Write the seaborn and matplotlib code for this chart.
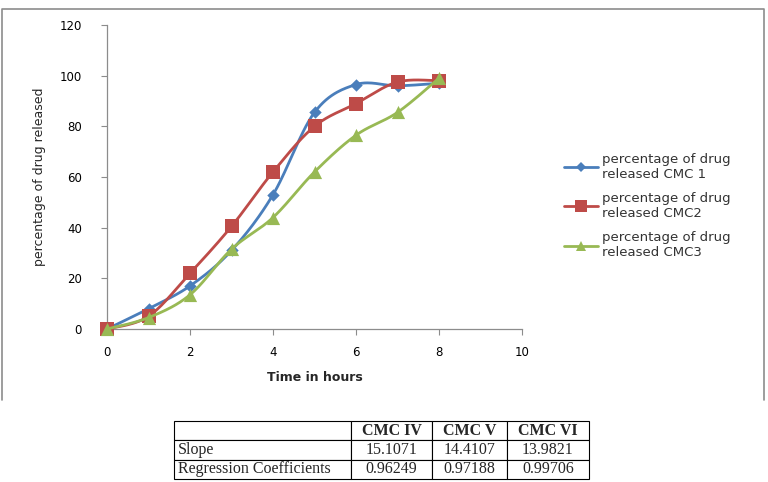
import numpy as np
import pandas as pd
import matplotlib as mpl
mpl.use("Agg")
import matplotlib.pyplot as plt
import seaborn as sns
from matplotlib.lines import Line2D

sns.set_style("white")
plt.rcParams['font.family'] = ['DejaVu Sans']

hours = [0, 1, 2, 3, 4, 5, 6, 7, 8]
cmc1 = [0, 8, 17, 31, 53, 85.5, 96.5, 96, 97]
cmc2 = [0, 5, 22, 40.5, 62, 80, 89, 97.5, 98]
cmc3 = [0, 4.5, 13.5, 31.5, 44, 62, 76.5, 85.5, 99]
series_names = ["percentage of drug\nreleased CMC 1",
                "percentage of drug\nreleased CMC2",
                "percentage of drug\nreleased CMC3"]
colors = ["#4A7EBB", "#BE4B48", "#98B954"]
markers = ["D", "s", "^"]
msizes = [40, 95, 90]

table_cols = ["", "CMC IV", "CMC V", "CMC VI"]
table_rows = [["Slope", "15.1071", "14.4107", "13.9821"],
              ["Regression Coefficients", "0.96249", "0.97188", "0.99706"]]


def smooth(x, y, n=30):
    # excel-like smoothed line (bezier through points, catmull-rom controls)
    x = np.asarray(x, float)
    y = np.asarray(y, float)
    px = np.concatenate([[x[0]], x, [x[-1]]])
    py = np.concatenate([[y[0]], y, [y[-1]]])
    xs, ys = [], []
    t = np.linspace(0, 1, n)
    for i in range(1, len(px) - 2):
        p0 = np.array([px[i], py[i]])
        p3 = np.array([px[i + 1], py[i + 1]])
        p1 = p0 + (p3 - np.array([px[i - 1], py[i - 1]])) / 6
        p2 = p3 - (np.array([px[i + 2], py[i + 2]]) - p0) / 6
        b = ((1 - t) ** 3)[:, None] * p0 + (3 * (1 - t) ** 2 * t)[:, None] * p1 \
            + (3 * (1 - t) * t ** 2)[:, None] * p2 + (t ** 3)[:, None] * p3
        xs.extend(b[:, 0])
        ys.extend(b[:, 1])
    return xs, ys


fig = plt.figure(figsize=(7.68, 4.82), dpi=100)

# outer chart frame
frame = fig.add_axes([0, 0, 1, 1], zorder=-1)
frame.set_xlim(0, 768)
frame.set_ylim(482, 0)
frame.axis("off")
frame.plot([2, 2, 764, 764], [400, 9, 9, 400], color="#8c8c8c", lw=1.2)

ax = fig.add_axes([107 / 768, 153 / 482, 415 / 768, 304 / 482])
for i, vals in enumerate([cmc1, cmc2, cmc3]):
    sx, sy = smooth(hours, vals)
    sns.lineplot(x=sx, y=sy, sort=False, color=colors[i], lw=2.0, ax=ax,
                 estimator=None, zorder=2 + i, clip_on=False)
    sns.scatterplot(x=hours, y=vals, marker=markers[i], s=msizes[i], color=colors[i],
                    edgecolor=colors[i], linewidth=0, ax=ax, zorder=2 + i, clip_on=False)

ax.set_xlim(0, 10)
ax.set_ylim(0, 120)
ax.set_xticks(range(0, 11, 2))
ax.set_yticks(range(0, 121, 20))
for side in ["top", "right"]:
    ax.spines[side].set_visible(False)
for side in ["left", "bottom"]:
    ax.spines[side].set_color("#8c8c8c")
    ax.spines[side].set_linewidth(0.9)
ax.tick_params(axis="both", direction="out", length=4, width=0.8, color="#8c8c8c",
               labelsize=8.5, labelcolor="black", left=True, bottom=True)
ax.tick_params(axis="x", pad=8)
ax.tick_params(axis="y", pad=14)
ax.set_xlabel("Time in hours", fontsize=9, fontweight="bold", labelpad=9)
ax.set_ylabel("percentage of drug released", fontsize=9, labelpad=10)

handles = [Line2D([], [], color=c, lw=2, marker=m, markersize=ms, markeredgewidth=0)
           for c, m, ms in zip(colors, markers, [5, 8, 7])]
fig.legend(handles, series_names, loc="upper left", bbox_to_anchor=(552 / 768, 1 - 141 / 482),
           frameon=False, fontsize=9.5, handlelength=2.6, handletextpad=0.3,
           labelspacing=0.85, labelcolor="#333333")

# table under the chart
tax = fig.add_axes([174 / 768, 3 / 482, 415 / 768, 58 / 482])
tax.axis("off")
tbl = tax.table(cellText=table_rows, colLabels=table_cols, bbox=[0, 0, 1, 1],
                colWidths=[177, 81, 75, 82], cellLoc="center")
tbl.auto_set_font_size(False)
for (r, c), cell in tbl.get_celld().items():
    cell.set_linewidth(0.8)
    cell.get_text().set_fontfamily("Liberation Serif")
    cell.get_text().set_fontsize(11.5)
    if r == 0:
        cell.get_text().set_fontweight("bold")
    if c == 0 and r > 0:
        cell.get_text().set_horizontalalignment("left")
        cell.PAD = 0.02

fig.savefig("out.png", dpi=100)
